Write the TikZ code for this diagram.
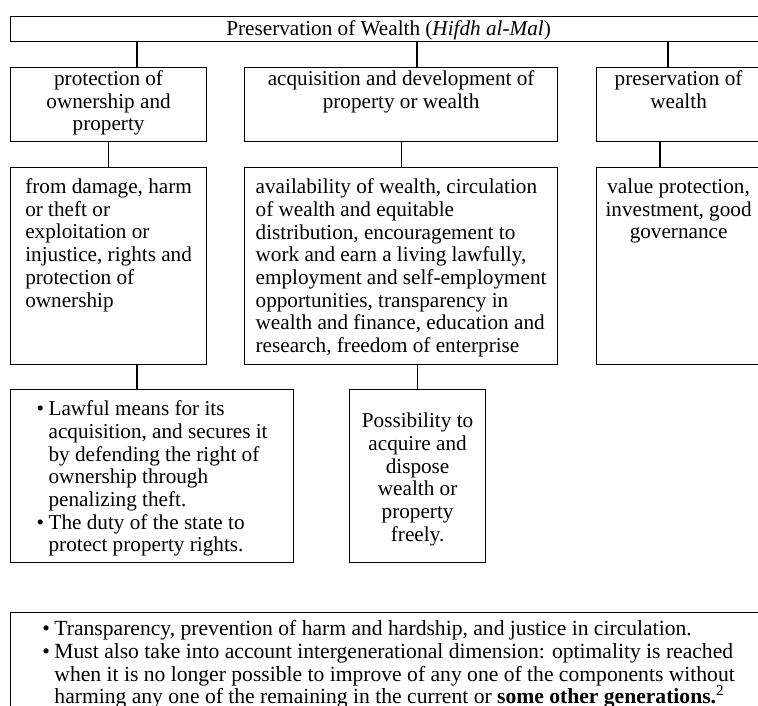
\documentclass[tikz,border=0pt]{standalone}
\usepackage{fontspec}
\setmainfont{Liberation Serif}
\usepackage{tikz}

\newcommand{\itm}{\makebox[6pt][l]{\textbullet}}
\newcommand{\cnt}{\hspace*{6pt}}

\begin{document}
\begin{tikzpicture}[
    x=0.5pt, y=-0.5pt,
    every node/.style={draw, line width=0.6pt, anchor=north west, inner sep=0pt, font=\fontsize{10.6}{11.35}\selectfont},
    head/.style={align=center},
    body/.style={align=left},
    link/.style={draw, line width=0.6pt}
]
\useasboundingbox (0,0) rectangle (758,705);
\clip (0,0) rectangle (758,705);

% x positions of the off-centre links
\coordinate (ka) at (137,0);
\coordinate (kb) at (417,0);
\coordinate (kc) at (668,0);
\coordinate (kd) at (660,0);

\node[head, minimum width=378pt, text height=9.5pt, text depth=3pt] (top) at (10,16) {Preservation of Wealth (\textit{Hifdh al-Mal})};

% first row (text height/depth taken from the last line)
\node[head, minimum width=98pt, text height=31.7pt, text depth=5.3pt] (prot) at (10,67) {protection of\\ownership and\\property};
\node[head, minimum width=156.5pt, text height=20.35pt, text depth=16.65pt] (acq) at (244,67) {acquisition and development of\\property or wealth};
\node[head, minimum width=82pt, text height=20.35pt, text depth=16.65pt] (pres) at (596,67) {preservation of\\wealth};

% second row
\node[body, minimum width=98pt, text height=69.75pt, text depth=28.75pt] (protd) at (10,167) {from damage, harm\\or theft or\\exploitation or\\injustice, rights and\\protection of\\ownership};
\node[body, minimum width=156.5pt, text height=92.45pt, text depth=6.05pt] (acqd) at (244,167) {availability of wealth, circulation\\of wealth and equitable\\distribution, encouragement to\\work and earn a living lawfully,\\employment and self-employment\\opportunities, transparency in\\wealth and finance, education and\\research, freedom of enterprise};
\node[head, minimum width=82pt, text height=35.7pt, text depth=62.8pt] (presd) at (596,167) {value protection,\\investment, good\\governance};

% third row
\node[body, minimum width=141.5pt, text height=81.1pt, text depth=5.4pt] (prots) at (10,389) {\itm Lawful means for its\\\cnt acquisition, and secures it\\\cnt by defending the right of\\\cnt ownership through\\\cnt penalizing theft.\\\itm The duty of the state to\\\cnt protect property rights.};
\node[head, minimum width=68pt, text height=75.75pt, text depth=10.75pt] (acqs) at (349,389) {Possibility to\\acquire and\\dispose\\wealth or\\property\\freely.};

\node[body, minimum width=378pt, text height=45.55pt, text depth=10pt, font=\fontsize{10.8}{11.35}\selectfont] (notes) at (10,612) {\itm Transparency, prevention of harm and hardship, and justice in circulation.\\\itm Must also take into account intergenerational dimension: optimality is reached\\\cnt when it is no longer possible to improve of any one of the components without\\\cnt harming any one of the remaining in the current or \textbf{some other generations.}\textsuperscript{2}};

% links
\draw[link] (top.south -| ka) -- (prot.north -| ka);
\draw[link] (top.south -| kb) -- (acq.north -| kb);
\draw[link] (top.south -| kc) -- (pres.north -| kc);
\draw[link] (prot.south) -- (protd.north);
\draw[link] (acq.south) -- (acqd.north);
\draw[link] (pres.south -| kd) -- (presd.north -| kd);
\draw[link] (protd.south -| ka) -- (prots.north -| ka);
\draw[link] (acqd.south -| acqs.north) -- (acqs.north);
\end{tikzpicture}
\end{document}
